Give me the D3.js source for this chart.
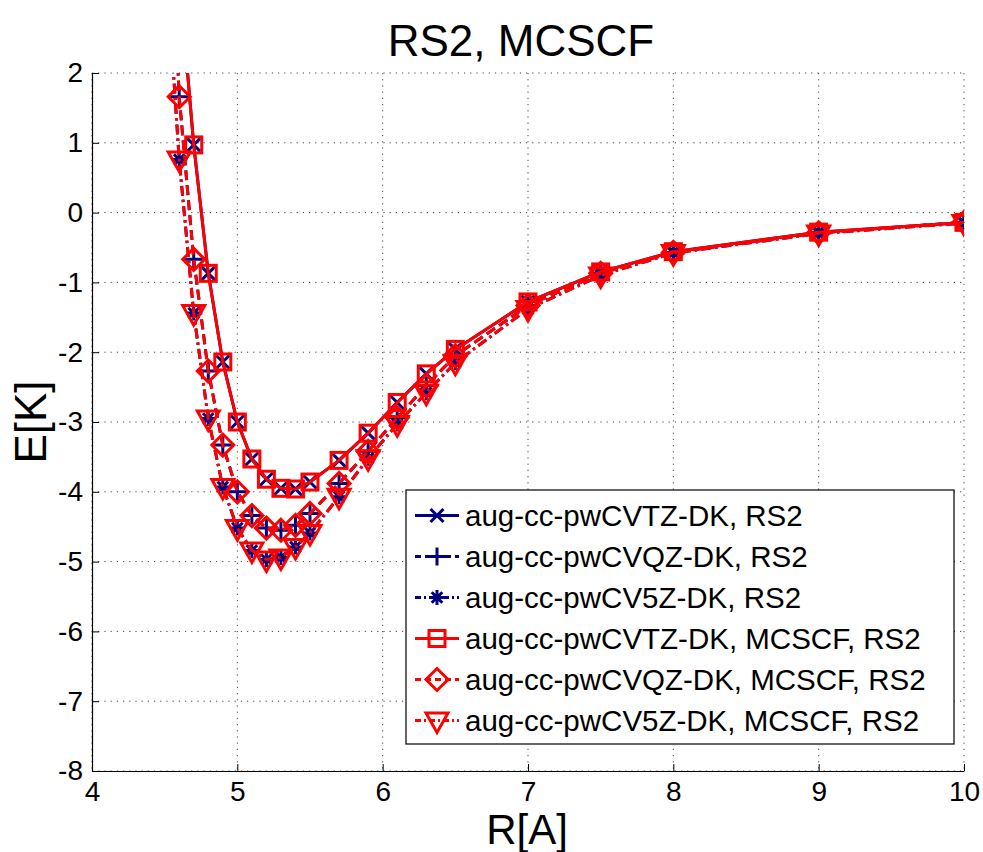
<!DOCTYPE html>
<html><head><meta charset="utf-8">
<script src="https://cdn.jsdelivr.net/npm/d3@7/dist/d3.min.js"></script>
<style>
html,body{margin:0;padding:0;background:#fff;}
svg{display:block;font-family:"Liberation Sans",Arial,Helvetica,sans-serif;}
</style></head>
<body>
<svg id="chart" width="983" height="852"></svg>
<script>
// ---------- data ----------
const R = [4.5, 4.6, 4.7, 4.8, 4.9, 5.0, 5.1, 5.2, 5.3, 5.4, 5.5, 5.7, 5.9, 6.1, 6.3, 6.5, 7.0, 7.5, 8.0, 9.0, 10.0];

const tzRS2   = [null, 3.4, 0.97, -0.87, -2.14, -3.00, -3.53, -3.82, -3.95, -3.96, -3.86, -3.55, -3.16, -2.72, -2.31, -1.96, -1.28, -0.85, -0.56, -0.28, -0.14];
const qzRS2   = [6.4, 1.66, -0.67, -2.27, -3.33, -4.00, -4.34, -4.52, -4.55, -4.48, -4.31, -3.88, -3.42, -2.94, -2.48, -2.05, -1.33, -0.87, -0.57, -0.29, -0.14];
const v5zRS2  = [3.9, 0.76, -1.44, -2.95, -3.93, -4.52, -4.84, -4.97, -4.94, -4.79, -4.59, -4.07, -3.52, -3.03, -2.58, -2.15, -1.38, -0.90, -0.58, -0.30, -0.15];

const tzMC    = [null, 3.4, 0.97, -0.87, -2.14, -3.00, -3.53, -3.82, -3.95, -3.96, -3.86, -3.55, -3.16, -2.72, -2.31, -1.96, -1.28, -0.85, -0.56, -0.28, -0.14];
const qzMC    = [6.4, 1.66, -0.67, -2.27, -3.33, -4.00, -4.34, -4.52, -4.55, -4.48, -4.31, -3.88, -3.42, -2.94, -2.48, -2.05, -1.33, -0.87, -0.57, -0.29, -0.14];
const v5zMC   = [3.9, 0.76, -1.44, -2.95, -3.93, -4.52, -4.84, -4.97, -4.94, -4.79, -4.59, -4.07, -3.52, -3.03, -2.58, -2.15, -1.38, -0.90, -0.58, -0.30, -0.15];

const xTicks = [4, 5, 6, 7, 8, 9, 10];
const yTicks = [2, 1, 0, -1, -2, -3, -4, -5, -6, -7, -8];

const seriesNames = [
  "aug-cc-pwCVTZ-DK, RS2",
  "aug-cc-pwCVQZ-DK, RS2",
  "aug-cc-pwCV5Z-DK, RS2",
  "aug-cc-pwCVTZ-DK, MCSCF, RS2",
  "aug-cc-pwCVQZ-DK, MCSCF, RS2",
  "aug-cc-pwCV5Z-DK, MCSCF, RS2"
];
const seriesValues = [tzRS2, qzRS2, v5zRS2, tzMC, qzMC, v5zMC];
const seriesColors = ["#000080", "#000080", "#000080", "#ff0000", "#ff0000", "#ff0000"];
const seriesDash   = [null, "10,5", "10,4,2.5,4", null, "10,5", "10,4,2.5,4"];
const seriesMarker = ["x", "plus", "star", "square", "diamond", "triangle"];

// ---------- layout ----------
const L = 92, T = 73, W = 872, H = 698;
const svg = d3.select("#chart");
const x = d3.scaleLinear().domain([4, 10]).range([L, L + W]);
const y = d3.scaleLinear().domain([-8, 2]).range([T + H, T]);

svg.append("defs").append("clipPath").attr("id", "clip")
  .append("rect").attr("x", L).attr("y", T).attr("width", W).attr("height", H);

// grid
const grid = svg.append("g");
grid.selectAll("line.gx").data(xTicks).join("line")
  .attr("x1", d => x(d)).attr("x2", d => x(d)).attr("y1", T).attr("y2", T + H)
  .attr("stroke", "#444").attr("stroke-width", 1).attr("stroke-dasharray", "1.2,5");
grid.selectAll("line.gy").data(yTicks).join("line")
  .attr("y1", d => y(d)).attr("y2", d => y(d)).attr("x1", L).attr("x2", L + W)
  .attr("stroke", "#444").attr("stroke-width", 1).attr("stroke-dasharray", "1.2,5");

// axes
const xAxis = d3.axisBottom(x).tickValues(xTicks).tickFormat(d3.format("d"))
  .tickSizeInner(-7).tickSizeOuter(0).tickPadding(10);
const yAxis = d3.axisLeft(y).tickValues(yTicks).tickFormat(d => d < 0 ? "-" + Math.abs(d) : String(d))
  .tickSizeInner(-7).tickSizeOuter(0).tickPadding(9);
const gx = svg.append("g").attr("transform", `translate(0,${T + H})`).call(xAxis);
const gy = svg.append("g").attr("transform", `translate(${L},0)`).call(yAxis);
[gx, gy].forEach(g => {
  g.selectAll("path.domain").attr("stroke", "#000").attr("stroke-width", 1.2);
  g.selectAll(".tick line").attr("stroke", "#000");
  g.selectAll("text").attr("font-size", 28).attr("fill", "#000")
    .attr("font-family", "Liberation Sans, Arial, sans-serif");
});
gx.selectAll("text").attr("dy", "0.71em");

// marker drawing
function drawMarker(g, type, color) {
  const sw = 3;
  if (type === "x") {
    g.append("path").attr("d", "M-6.5,-6.5L6.5,6.5M-6.5,6.5L6.5,-6.5")
      .attr("stroke", color).attr("stroke-width", sw).attr("fill", "none");
  } else if (type === "plus") {
    g.append("path").attr("d", "M-9,0L9,0M0,-9L0,9")
      .attr("stroke", color).attr("stroke-width", sw).attr("fill", "none");
  } else if (type === "star") {
    g.append("path").attr("d", "M-7.5,0L7.5,0M0,-7.5L0,7.5M-5.3,-5.3L5.3,5.3M-5.3,5.3L5.3,-5.3")
      .attr("stroke", color).attr("stroke-width", sw).attr("fill", "none");
  } else if (type === "square") {
    g.append("rect").attr("x", -8).attr("y", -8).attr("width", 16).attr("height", 16)
      .attr("stroke", color).attr("stroke-width", sw).attr("fill", "none");
  } else if (type === "diamond") {
    g.append("path").attr("d", "M0,-11L11,0L0,11L-11,0Z")
      .attr("stroke", color).attr("stroke-width", sw).attr("fill", "none");
  } else if (type === "triangle") {
    g.append("path").attr("d", "M-11,-7.5L11,-7.5L0,12Z")
      .attr("stroke", color).attr("stroke-width", sw).attr("fill", "none").attr("stroke-linejoin", "miter");
  }
}

// series
const plot = svg.append("g").attr("clip-path", "url(#clip)");
const lineGen = d3.line().defined(d => d[1] !== null).x(d => x(d[0])).y(d => y(d[1]));
seriesValues.forEach((vals, i) => {
  const pts = R.map((r, k) => [r, vals[k]]);
  const g = plot.append("g");
  g.append("path").datum(pts).attr("d", lineGen)
    .attr("fill", "none").attr("stroke", seriesColors[i]).attr("stroke-width", 3)
    .attr("stroke-dasharray", seriesDash[i]);
  pts.filter(d => d[1] !== null).forEach(d => {
    const m = g.append("g").attr("transform", `translate(${x(d[0])},${y(d[1])})`);
    drawMarker(m, seriesMarker[i], seriesColors[i]);
  });
});

// title & labels
svg.append("text").attr("x", 521).attr("y", 56).attr("text-anchor", "middle")
  .attr("font-size", 44).text("RS2, MCSCF");
svg.append("text").attr("x", 527).attr("y", 844).attr("text-anchor", "middle")
  .attr("font-size", 42).text("R[A]");
svg.append("text").attr("transform", "translate(46,422) rotate(-90)").attr("text-anchor", "middle")
  .attr("font-size", 44).text("E[K]");

// legend
const lg = svg.append("g");
lg.append("rect").attr("x", 406).attr("y", 490).attr("width", 548).attr("height", 254)
  .attr("fill", "#fff").attr("stroke", "#000").attr("stroke-width", 1.2);
seriesNames.forEach((name, i) => {
  const cy = 515.5 + i * 41;
  lg.append("line").attr("x1", 415).attr("x2", 459).attr("y1", cy).attr("y2", cy)
    .attr("stroke", seriesColors[i]).attr("stroke-width", 3)
    .attr("stroke-dasharray", seriesDash[i] ? (i % 3 === 1 ? "6,4" : "6,3,2,3") : null);
  const m = lg.append("g").attr("transform", `translate(437,${cy})`);
  drawMarker(m, seriesMarker[i], seriesColors[i]);
  lg.append("text").attr("x", 465).attr("y", cy).attr("dy", "0.36em")
    .attr("font-size", 29.5).text(name);
});
</script>
</body></html>
